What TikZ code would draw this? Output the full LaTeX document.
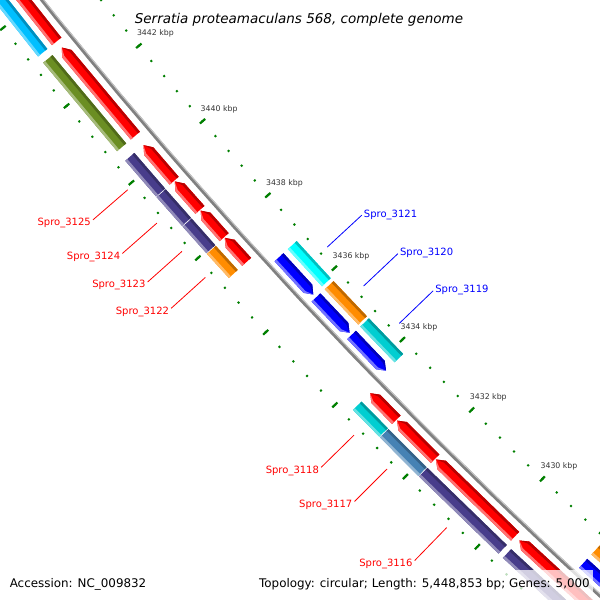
\documentclass[tikz,border=0pt]{standalone}
\usepackage{fontspec}
\setmainfont{DejaVu Sans}
\usepackage{xcolor}
\definecolor{cogsky}{HTML}{00BFFF}
\definecolor{cogolive}{HTML}{6B8E23}
\definecolor{cogpurple}{HTML}{483D8B}
\definecolor{cogorange}{HTML}{FF8C00}
\definecolor{cogteal}{HTML}{00CED1}
\definecolor{cogsteel}{HTML}{4682B4}
\definecolor{cogcyan}{HTML}{00FFFF}
\definecolor{tickgreen}{HTML}{007F00}
\tikzset{
  declare function={kang(\p)=137.01+0.5385*(\p-3436); krad(\d)=5299+\d;},
  backbone/.style={line width=3.6pt, gray},
  backedge/.style={line width=1pt, gray!45},
  minortick/.style={line width=2pt, tickgreen},
  majortick/.style={line width=2.2pt, tickgreen},
  ticklabel/.style={inner sep=0pt, black!80, font=\fontsize{7.8}{9}\selectfont},
  fwdlabel/.style={inner sep=0pt, red, font=\fontsize{10}{12}\selectfont},
  revlabel/.style={inner sep=0pt, blue, font=\fontsize{10}{12}\selectfont},
  fwdlead/.style={red, line width=0.8pt},
  revlead/.style={blue, line width=0.8pt},
  legendbg/.style={fill=white, fill opacity=0.75},
  legendtext/.style={inner sep=0pt, font=\fontsize{11.9}{14}\selectfont},
  titletext/.style={inner sep=0pt, font=\fontsize{13.5}{16}\selectfont\itshape}
}
\newcommand{\genearrow}[4]{%
  \pgfmathsetmacro{\gsh}{#2+0.16*sign(#1-#2)}%
  \fill[fill=#4] ({kang(#1)}:{krad(#3)}) -- ({kang(\gsh)}:{krad(#3)}) -- ({kang(#2)}:{krad(#3+6)})
    -- ({kang(\gsh)}:{krad(#3+12)}) -- ({kang(#1)}:{krad(#3+12)}) -- cycle;
  \fill[fill=#4!72!black] ({kang(#1)}:{krad(#3)}) -- ({kang(\gsh)}:{krad(#3)}) -- ({kang(#2)}:{krad(#3+6)})
    -- ({kang(\gsh)}:{krad(#3+2.6)}) -- ({kang(#1)}:{krad(#3+2.6)}) -- cycle;
  \fill[fill=#4!55!white] ({kang(#1)}:{krad(#3+12)}) -- ({kang(\gsh)}:{krad(#3+12)}) -- ({kang(#2)}:{krad(#3+6)})
    -- ({kang(\gsh)}:{krad(#3+9.4)}) -- ({kang(#1)}:{krad(#3+9.4)}) -- cycle;}
\newcommand{\cogbar}[4]{%
  \fill[fill=#4] ({kang(#1)}:{krad(#3)}) -- ({kang(#2)}:{krad(#3)}) -- ({kang(#2)}:{krad(#3+12)}) -- ({kang(#1)}:{krad(#3+12)}) -- cycle;
  \fill[fill=#4!75!black] ({kang(#1)}:{krad(#3)}) -- ({kang(#2)}:{krad(#3)}) -- ({kang(#2)}:{krad(#3+2.6)}) -- ({kang(#1)}:{krad(#3+2.6)}) -- cycle;
  \fill[fill=#4!60!white] ({kang(#1)}:{krad(#3+9.4)}) -- ({kang(#2)}:{krad(#3+9.4)}) -- ({kang(#2)}:{krad(#3+12)}) -- ({kang(#1)}:{krad(#3+12)}) -- cycle;}

\begin{document}
\begin{tikzpicture}[x=1pt, y=-1pt]
    \useasboundingbox (0,0) rectangle (600,600);
    \clip (0,0) rectangle (600,600);
    \begin{scope}[shift={(4176,-3313)}]
        \draw[backbone] plot[domain=3426:3446, samples=41] ({kang(\x)}:{krad(-1)});
        \draw[backedge] plot[domain=3426:3446, samples=41] ({kang(\x)}:{krad(-2.4)});
        \foreach \a/\b in {3443.12/3446, 3440.66/3442.96, 3439.47/3440.41, 3438.69/3439.45, 3437.96/3438.67,
                           3437.29/3437.94, 3432.93/3433.68, 3431.83/3432.91, 3429.60/3431.81, 3426.5/3429.48}
            {\genearrow{\a}{\b}{7.5}{red}}
        \foreach \a/\b in {3436.92/3435.90, 3435.82/3434.84, 3434.78/3433.78, 3428.23/3426}
            {\genearrow{\a}{\b}{-19.5}{blue}}
        \foreach \a/\b/\c in {3446/3443.12/cogsky, 3442.96/3440.66/cogolive, 3440.41/3439.47/cogpurple,
                              3439.45/3438.69/cogpurple, 3438.67/3437.96/cogpurple, 3437.94/3437.29/cogorange,
                              3433.68/3432.93/cogteal, 3432.91/3431.83/cogsteel, 3431.81/3429.60/cogpurple,
                              3429.48/3426.5/cogpurple}
            {\cogbar{\a}{\b}{25.5}{\c}}
        \foreach \a/\b/\c in {3436.92/3435.90/cogcyan, 3435.82/3434.84/cogorange, 3434.78/3433.78/cogteal,
                              3428.23/3426/cogorange}
            {\cogbar{\a}{\b}{-37.5}{\c}}
        \foreach \k in {0,...,50} {
            \pgfmathsetmacro{\kp}{3426+0.4*\k}
            \foreach \r in {-47,47}
                \draw[minortick] ({kang(\kp)}:{krad(\r-1)}) -- ({kang(\kp)}:{krad(\r+1)});
        }
        \foreach \k in {3426,3428,...,3446}
            \foreach \r in {-47,47}
                \draw[majortick] ({kang(\k)}:{krad(\r-3.5)}) -- ({kang(\k)}:{krad(\r+3.5)});
        \foreach \k in {3430,3432,...,3442}
            \node[ticklabel, anchor=west, xshift=-2pt, yshift=12.3pt] (t\k) at ({kang(\k)}:{krad(-47)}) {\k\ kbp};
        \foreach \g/\p in {3125/3439.94, 3124/3439.06, 3123/3438.31, 3122/3437.615,
                           3118/3433.305, 3117/3432.365, 3116/3430.705} {
            \coordinate (g\g) at ({kang(\p)}:{krad(54.5)});
            \coordinate (e\g) at ({kang(\p)}:{krad(100.5)});
            \draw[fwdlead] (g\g) -- (e\g);
            \node[fwdlabel, anchor=east, xshift=-2pt, yshift=-3.2pt] (l\g) at (e\g) {Spro\_\g};
        }
        \foreach \g/\p in {3121/3436.41, 3120/3435.33, 3119/3434.28} {
            \coordinate (g\g) at ({kang(\p)}:{krad(-56)});
            \coordinate (e\g) at ({kang(\p)}:{krad(-103)});
            \draw[revlead] (g\g) -- (e\g);
            \node[revlabel, anchor=west, xshift=2pt, yshift=0.5pt] (l\g) at (e\g) {Spro\_\g};
        }
    \end{scope}
    \node[titletext, anchor=base] (title) at (299,23.3) {Serratia proteamaculans 568, complete genome};
    \fill[legendbg] (3,570) rectangle (150,600);
    \fill[legendbg] (255,570) rectangle (593,600);
    \node[legendtext, anchor=base west] (accession) at (9.6,587) {Accession: NC\_009832};
    \node[legendtext, anchor=base east] (topology) at (590,587) {Topology: circular; Length: 5,448,853 bp; Genes: 5,000};
\end{tikzpicture}
\end{document}
